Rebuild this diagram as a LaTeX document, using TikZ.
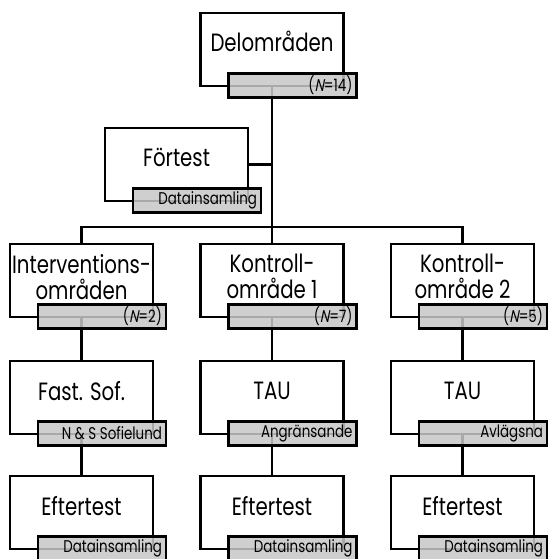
\documentclass[tikz,border=0pt]{standalone}
\usepackage{fontspec}
\setmainfont{Poppins}[FakeStretch=0.79,AutoFakeSlant=0.2]
\usetikzlibrary{positioning}

\tikzset{
  stepbox/.style={draw,fill=white,minimum width=143pt,minimum height=73pt,inner sep=0pt},
  tagbox/.style={draw,fill=black!22,fill opacity=0.85,text opacity=1,minimum width=128pt,
    minimum height=24pt,inner sep=0pt,anchor=north east,xshift=13pt,yshift=15pt},
  tagtext/.style={anchor=east,inner sep=0pt,xshift=-4pt,font=\fontsize{17}{19}\selectfont},
  lbl/.style={align=center,inner sep=0pt,font=\fontsize{25}{26}\selectfont}
}

\begin{document}
\begin{tikzpicture}[x=1pt,y=-1pt,line width=2.5pt]

\useasboundingbox (0,0) rectangle (547,559);

% connectors
\coordinate (bus) at (272,227);
\node [stepbox] (delo) at (272,49.5) {};
\node [stepbox] (fore) at (176.5,164.5) {};
\node [stepbox] (int) at (81.5,280.5) {};
\node [stepbox] (kon1) at (272,280.5) {};
\node [stepbox] (kon2) at (462.5,280.5) {};
\node [stepbox] (sof) at (81.5,397.5) {};
\node [stepbox] (tau1) at (272,397.5) {};
\node [stepbox] (tau2) at (462.5,397.5) {};
\node [stepbox] (eft0) at (81.5,512.5) {};
\node [stepbox] (eft1) at (272,512.5) {};
\node [stepbox] (eft2) at (462.5,512.5) {};

\draw (delo.south)--(kon1.north);
\draw (fore.east)--(fore.east -| delo.south);
\draw (int.north) |- (bus) -| (kon2.north);
\draw (int.south)--(sof.north);
\draw (sof.south)--(eft0.north);
\draw (kon1.south)--(tau1.north);
\draw (tau1.south)--(eft1.north);
\draw (kon2.south)--(tau2.north);
\draw (tau2.south)--(eft2.north);

% boxes again on top of the lines
\foreach \b in {delo,fore,int,kon1,kon2,sof,tau1,tau2,eft0,eft1,eft2}
  \node [stepbox] at (\b) {};

% texts
\node [lbl] (delol) at ([yshift=-30pt]delo.north) {Delområden};
\node [lbl] (forel) at ([yshift=-31pt]fore.north) {Förtest};
\node [lbl] (intl) at ([yshift=-34pt]int.north) {Interventions-\\områden};
\node [lbl] (kon1l) at ([yshift=-34pt]kon1.north) {Kontroll-\\område 1};
\node [lbl] (kon2l) at ([yshift=-34pt]kon2.north) {Kontroll-\\område 2};
\node [lbl] (sofl) at ([yshift=-31pt]sof.north) {Fast. Sof.};
\node [lbl] (tau1l) at ([yshift=-31pt]tau1.north) {TAU};
\node [lbl] (tau2l) at ([yshift=-31pt]tau2.north) {TAU};
\node [lbl] (eft0l) at ([yshift=-31pt]eft0.north) {Eftertest};
\node [lbl] (eft1l) at ([yshift=-31pt]eft1.north) {Eftertest};
\node [lbl] (eft2l) at ([yshift=-31pt]eft2.north) {Eftertest};

% tags
\node [tagbox] (delot) at (delo.south east) {};
\node [tagtext] at (delot.east) {(\textit{N}=14)};
\node [tagbox] (foret) at (fore.south east) {};
\node [tagtext] at (foret.east) {Datainsamling};
\node [tagbox] (intt) at (int.south east) {};
\node [tagtext] at (intt.east) {(\textit{N}=2)};
\node [tagbox] (kon1t) at (kon1.south east) {};
\node [tagtext] at (kon1t.east) {(\textit{N}=7)};
\node [tagbox] (kon2t) at (kon2.south east) {};
\node [tagtext] at (kon2t.east) {(\textit{N}=5)};
\node [tagbox] (soft) at (sof.south east) {};
\node [tagtext] at (soft.east) {N \& S Sofielund};
\node [tagbox] (tau1t) at (tau1.south east) {};
\node [tagtext] at (tau1t.east) {Angränsande};
\node [tagbox] (tau2t) at (tau2.south east) {};
\node [tagtext] at (tau2t.east) {Avlägsna};
\node [tagbox] (eft0t) at (eft0.south east) {};
\node [tagtext] at (eft0t.east) {Datainsamling};
\node [tagbox] (eft1t) at (eft1.south east) {};
\node [tagtext] at (eft1t.east) {Datainsamling};
\node [tagbox] (eft2t) at (eft2.south east) {};
\node [tagtext] at (eft2t.east) {Datainsamling};

\end{tikzpicture}
\end{document}
